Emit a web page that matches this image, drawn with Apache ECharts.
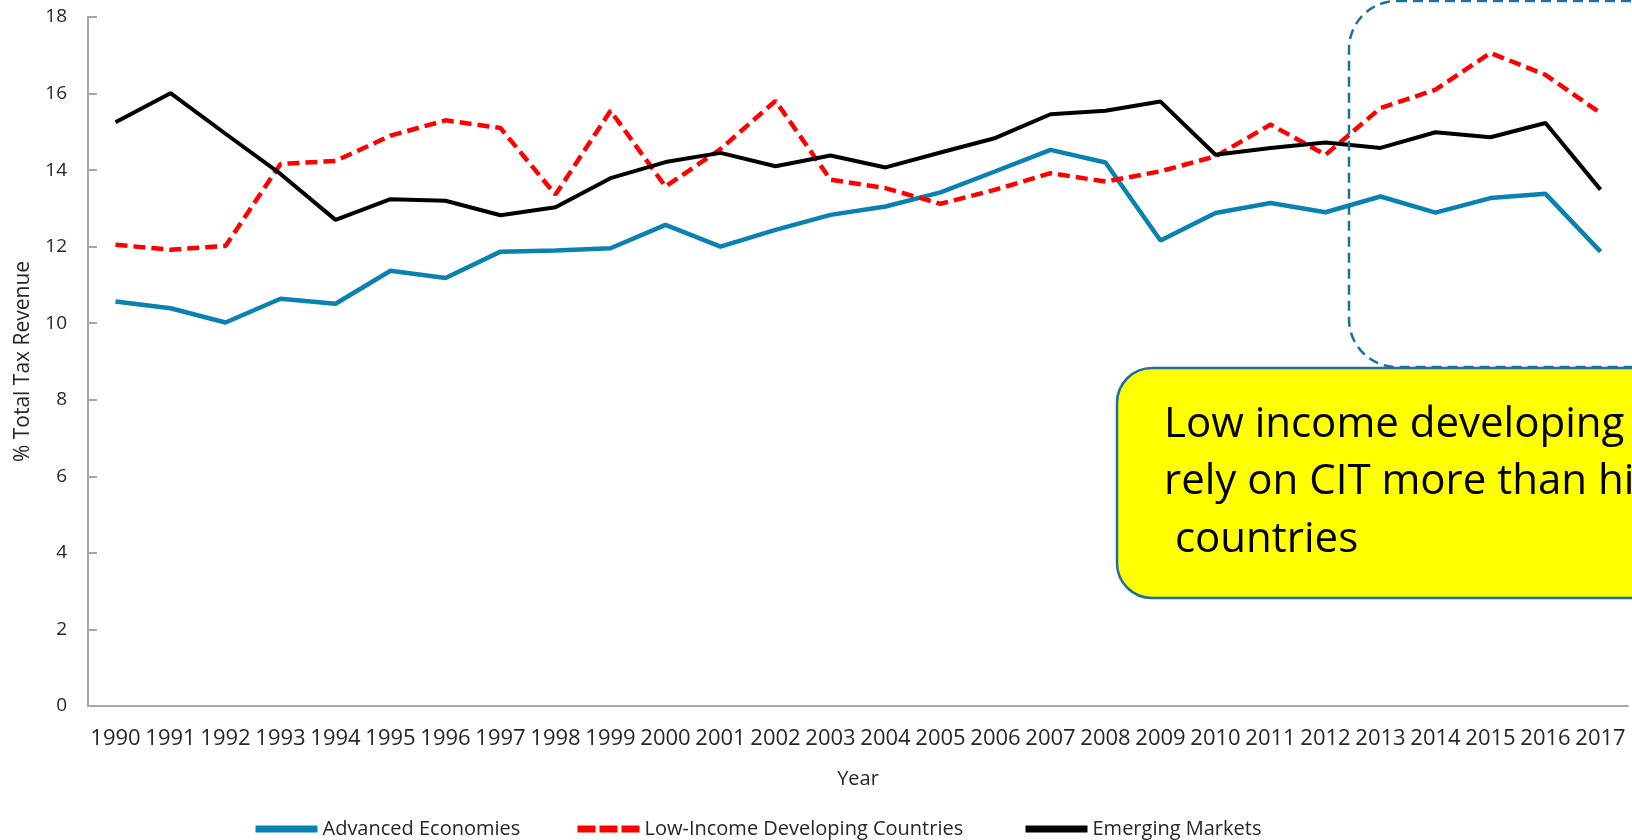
<!DOCTYPE html>
<html>
<head>
<meta charset="utf-8">
<script src="https://cdn.jsdelivr.net/npm/echarts@6/dist/echarts.min.js"></script>
<style>
    html, body {margin: 0; padding: 0; background: #fff;}
    #chart {width: 1632px; height: 840px;}
</style>
</head>
<body>
<div id="chart"></div>
<script>
    // years on the x axis
    const years = ['1990', '1991', '1992', '1993', '1994', '1995', '1996', '1997', '1998', '1999',
        '2000', '2001', '2002', '2003', '2004', '2005', '2006', '2007', '2008', '2009',
        '2010', '2011', '2012', '2013', '2014', '2015', '2016', '2017'];

    // CIT as % of total tax revenue
    const advanced = [10.57, 10.39, 10.02, 10.64, 10.51, 11.37, 11.18, 11.87, 11.90, 11.96,
        12.57, 12.00, 12.44, 12.83, 13.05, 13.42, 13.97, 14.53, 14.20, 12.16,
        12.88, 13.14, 12.90, 13.31, 12.89, 13.27, 13.38, 11.87];
    const lowIncome = [12.05, 11.92, 12.02, 14.16, 14.24, 14.90, 15.30, 15.10, 13.36, 15.55,
        13.57, 14.55, 15.81, 13.75, 13.53, 13.12, 13.49, 13.92, 13.70, 13.97,
        14.36, 15.19, 14.40, 15.62, 16.10, 17.06, 16.49, 15.49];
    const emerging = [15.25, 16.01, 14.95, 13.90, 12.70, 13.24, 13.20, 12.82, 13.03, 13.79,
        14.21, 14.45, 14.10, 14.38, 14.07, 14.46, 14.84, 15.46, 15.55, 15.79,
        14.40, 14.58, 14.72, 14.58, 14.99, 14.86, 15.23, 13.49];

    const yTicks = {min: 0, max: 18, interval: 2};

    const seriesNames = ['Advanced Economies', 'Low-Income Developing Countries', 'Emerging Markets'];

    const noteLines = ['Low income developing countries', 'rely on CIT more than high income', ' countries'];

    const font = 'Open Sans';
    const axisGrey = '#a6a6a6';
    const textColor = '#262626';

    const chart = echarts.init(document.getElementById('chart'));

    function legendFor(name, left, lineStyle) {
        return {
            data: [name],
            left: left,
            top: 819,
            padding: 0,
            itemWidth: 62,
            itemHeight: 14,
            lineStyle: lineStyle,
            // hide the little circle, keep only the line
            itemStyle: {opacity: 0, borderWidth: 0},
            textStyle: {fontFamily: font, fontSize: 20, color: textColor}
        };
    }

    function noteText(text, y) {
        return {
            type: 'text',
            z: 102,
            x: 1164,
            y: y,
            style: {text: text, font: '42px "Open Sans"', fill: '#000', verticalAlign: 'middle'}
        };
    }

    const option = {
        animation: false,
        backgroundColor: '#fff',
        grid: {left: 88, right: 4, top: 17, bottom: 134, containLabel: false},
        legend: [
            legendFor(seriesNames[0], 252, {width: 7}),
            legendFor(seriesNames[1], 574, {width: 7, type: [18, 4]}),
            legendFor(seriesNames[2], 1022, {width: 7})
        ],
        xAxis: {
            type: 'category',
            data: years,
            boundaryGap: true,
            name: 'Year',
            nameLocation: 'middle',
            nameGap: 63,
            nameTextStyle: {fontFamily: font, fontSize: 20, color: textColor},
            axisLine: {lineStyle: {color: axisGrey, width: 2}},
            axisTick: {inside: true, length: 9, lineStyle: {color: axisGrey, width: 2}},
            axisLabel: {interval: 0, margin: 22, fontFamily: font, fontSize: 22, color: textColor}
        },
        yAxis: {
            type: 'value',
            min: yTicks.min,
            max: yTicks.max,
            interval: yTicks.interval,
            name: '% Total Tax Revenue',
            nameLocation: 'middle',
            nameGap: 54,
            nameTextStyle: {fontFamily: font, fontSize: 21, color: textColor},
            axisLine: {show: true, lineStyle: {color: axisGrey, width: 2}},
            axisTick: {show: true, inside: true, length: 9, lineStyle: {color: axisGrey, width: 2}},
            axisLabel: {margin: 21, fontFamily: font, fontSize: 19, color: textColor},
            splitLine: {show: false}
        },
        series: [
            {
                name: seriesNames[0],
                type: 'line',
                data: advanced,
                symbol: 'none',
                lineStyle: {color: '#0a82b0', width: 4.5},
                itemStyle: {color: '#0a82b0'}
            },
            {
                name: seriesNames[1],
                type: 'line',
                data: lowIncome,
                symbol: 'none',
                lineStyle: {color: '#ff0000', width: 4.5, type: [12, 6]},
                itemStyle: {color: '#ff0000'}
            },
            {
                name: seriesNames[2],
                type: 'line',
                data: emerging,
                symbol: 'none',
                lineStyle: {color: '#000', width: 4},
                itemStyle: {color: '#000'}
            }
        ],
        graphic: [
            {
                type: 'rect',
                z: 100,
                shape: {x: 1349, y: 1, width: 420, height: 366, r: 48},
                style: {fill: 'none', stroke: '#1d6fa0', lineWidth: 2.5, lineDash: [10, 6]}
            },
            {
                type: 'rect',
                z: 101,
                shape: {x: 1117, y: 368, width: 600, height: 230, r: 35},
                style: {fill: '#ffff00', stroke: '#1c6ea4', lineWidth: 2.5}
            },
            noteText(noteLines[0], 425),
            noteText(noteLines[1], 482),
            noteText(noteLines[2], 540)
        ]
    };

    chart.setOption(option);
</script>
</body>
</html>
